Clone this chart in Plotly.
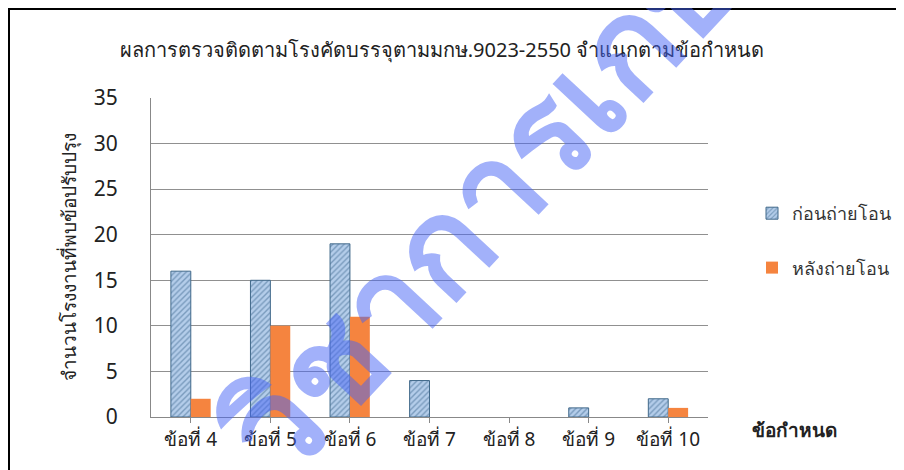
import plotly.graph_objects as go

categories = ["ข้อที่ 4", "ข้อที่ 5", "ข้อที่ 6", "ข้อที่ 7", "ข้อที่ 8", "ข้อที่ 9", "ข้อที่ 10"]
before_values = [16, 15, 19, 4, 0, 1, 2]
after_values = [2, 10, 11, 0, 0, 0, 1]
series_names = ["ก่อนถ่ายโอน", "หลังถ่ายโอน"]
y_ticks = [0, 5, 10, 15, 20, 25, 30, 35]

FONT = "Tahoma, 'Noto Sans', 'DejaVu Sans', sans-serif"

def hide_zero(vals):
    return [v if v else None for v in vals]

fig = go.Figure()
fig.add_trace(go.Bar(
    x=categories, y=hide_zero(before_values), name=series_names[0], legendgroup="a",
    marker=dict(color="#b4cdea", line=dict(color="#41698a", width=1),
                pattern=dict(shape="/", fgcolor="#3f6a90", size=4, solidity=0.35)),
))
fig.add_trace(go.Bar(
    x=categories, y=hide_zero(after_values), name=series_names[1], legendgroup="b",
    marker=dict(color="#f5843f", line=dict(color="#f5843f", width=0)),
))

# page is offset by the 8px body margin
OX, OY = 8, 8
W, H = 904 - OX, 470 - OY
L, R, T, B = 151 - OX, 708 - OX, 98 - OY, 417 - OY

def px(x):
    return (x - OX - L) / (R - L)

def py(y):
    return (B - (y - OY)) / (B - T)

fig.update_layout(
    width=W, height=H,
    margin=dict(l=L, r=W - R, t=T, b=H - B, autoexpand=False),
    paper_bgcolor="white", plot_bgcolor="white",
    barmode="group", bargap=0.5, bargroupgap=0,
    font=dict(family=FONT, color="#222222"),
    title=dict(text="ผลการตรวจติดตามโรงคัดบรรจุตามมกษ.9023-2550 จำแนกตามข้อกำหนด",
               x=(442 - OX) / W, xanchor="center", y=1 - (50 - OY) / H, yanchor="middle",
               font=dict(size=20, color="#222222")),
    legend=dict(x=px(752), y=py(195), xanchor="left", yanchor="top",
                font=dict(size=18, color="#333333"), tracegroupgap=28,
                bgcolor="rgba(0,0,0,0)"),
    showlegend=True,
)
fig.update_xaxes(
    showline=True, linecolor="#888888", linewidth=1,
    ticks="outside", ticklen=5, tickcolor="#888888",
    tickfont=dict(size=19, color="#222222"), showgrid=False,
)
fig.update_yaxes(
    range=[0, 35], tickvals=y_ticks, showgrid=True, gridcolor="#909090", gridwidth=1,
    showline=True, linecolor="#888888", linewidth=1, zeroline=False,
    tickfont=dict(size=21, color="#222222"), ticks="", ticklabelstandoff=28,
    title=dict(text="จำนวนโรงงานที่พบข้อปรับปรุง", font=dict(size=19, color="#222222"), standoff=12),
)

fig.add_annotation(text="<b>ข้อกำหนด</b>", xref="paper", yref="paper",
                   x=px(750), y=py(430), xanchor="left", yanchor="middle",
                   showarrow=False, font=dict(size=19, color="#222222"))

# frame lines (left and top edge of the figure)
fig.add_shape(type="line", xref="paper", yref="paper", x0=px(8), x1=px(904), y0=py(9), y1=py(9),
              line=dict(color="black", width=2))
fig.add_shape(type="line", xref="paper", yref="paper", x0=px(9), x1=px(9), y0=py(9), y1=py(480),
              line=dict(color="black", width=2))

# watermark
fig.add_annotation(text="<b>วิชาการเกษตร</b>", xref="paper", yref="paper",
                   x=px(532), y=py(143), xanchor="center", yanchor="middle",
                   textangle=-47, showarrow=False,
                   font=dict(size=134, color="rgba(70,100,245,0.5)", family=FONT))

fig.write_html("out.html")
